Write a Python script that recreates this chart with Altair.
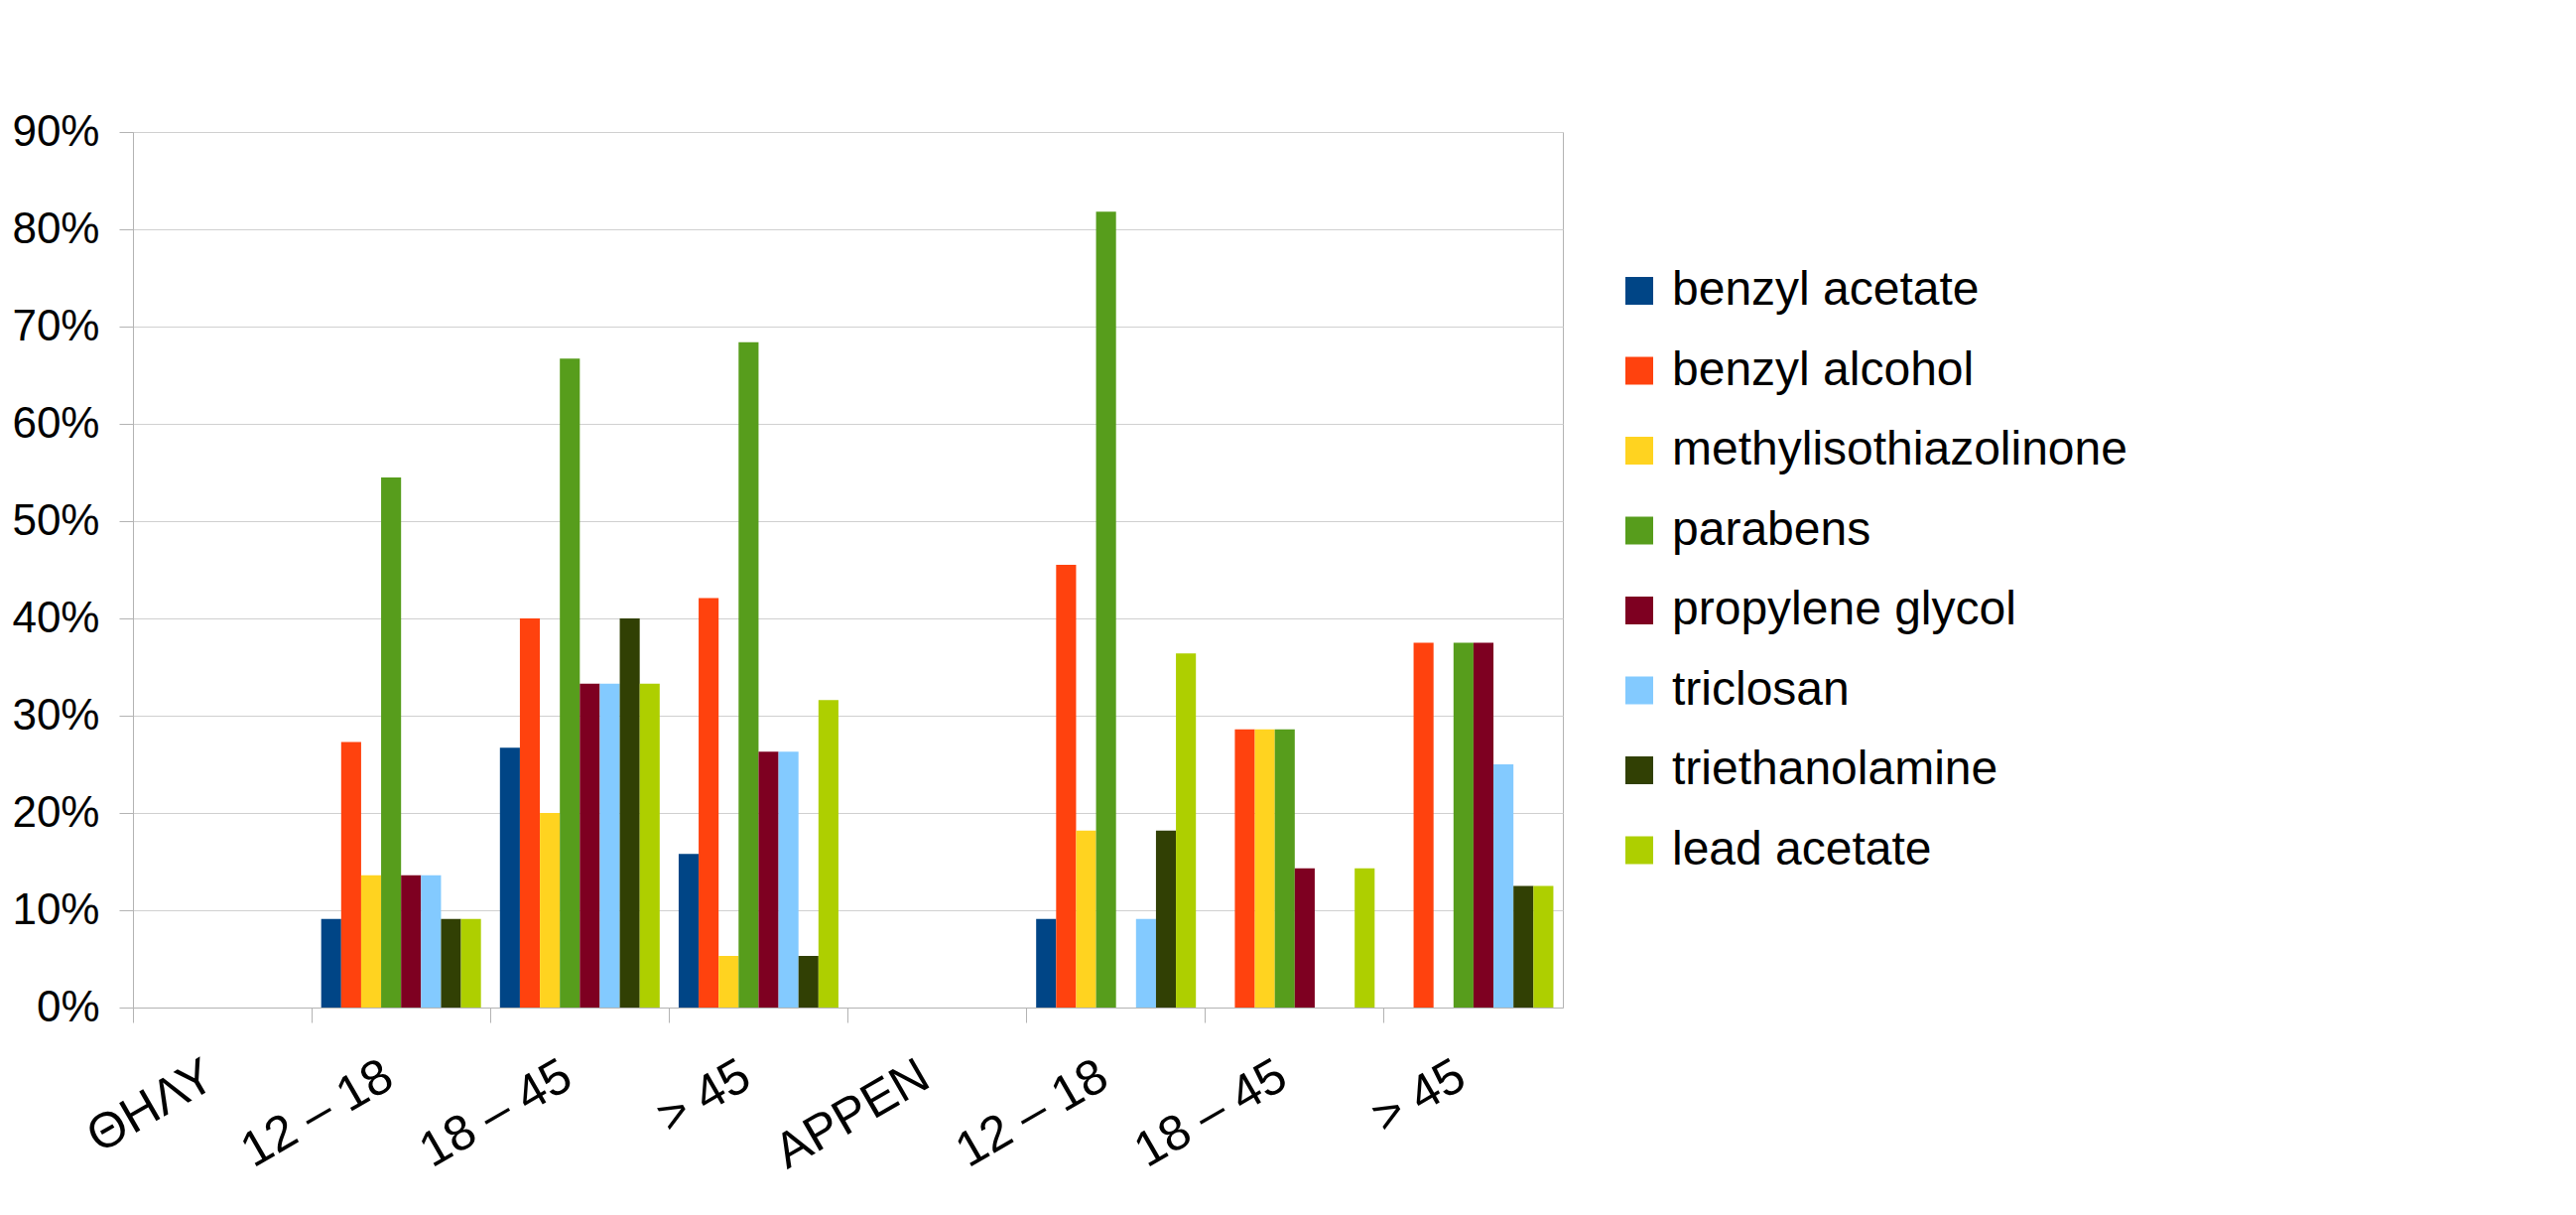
import json
import altair as alt
import pandas as pd

categories = ["ΘΗΛΥ", "12 – 18", "18 – 45", "> 45", "ΑΡΡΕΝ", "12 – 18", "18 – 45", "> 45"]
series_names = ["benzyl acetate", "benzyl alcohol", "methylisothiazolinone", "parabens",
                "propylene glycol", "triclosan", "triethanolamine", "lead acetate"]
colors = ["#004586", "#ff420e", "#ffd320", "#579d1c", "#7e0021", "#83caff", "#314004", "#aecf00"]

benzyl_acetate = [0, 9.1, 26.7, 15.8, 0, 9.1, 0, 0]
benzyl_alcohol = [0, 27.3, 40.0, 42.1, 0, 45.5, 28.6, 37.5]
methylisothiazolinone = [0, 13.6, 20.0, 5.3, 0, 18.2, 28.6, 0]
parabens = [0, 54.5, 66.7, 68.4, 0, 81.8, 28.6, 37.5]
propylene_glycol = [0, 13.6, 33.3, 26.3, 0, 0, 14.3, 37.5]
triclosan = [0, 13.6, 33.3, 26.3, 0, 9.1, 0, 25.0]
triethanolamine = [0, 9.1, 40.0, 5.3, 0, 18.2, 0, 12.5]
lead_acetate = [0, 9.1, 33.3, 31.6, 0, 36.4, 14.3, 12.5]

all_series = [benzyl_acetate, benzyl_alcohol, methylisothiazolinone, parabens,
              propylene_glycol, triclosan, triethanolamine, lead_acetate]

rows = []
for name, vals in zip(series_names, all_series):
    for i, v in enumerate(vals):
        rows.append({"idx": i, "series": name, "value": v / 100.0})
df = pd.DataFrame(rows)

label_expr = json.dumps(categories, ensure_ascii=False) + "[datum.value]"
FONT = "Liberation Sans"

chart = alt.Chart(df).mark_bar().encode(
    x=alt.X("idx:O",
            scale=alt.Scale(paddingInner=0, paddingOuter=0),
            axis=alt.Axis(title=None, labelExpr=label_expr, labelAngle=-30,
                          labelAlign="right", labelBaseline="middle",
                          labelFontSize=50, labelFont=FONT, labelColor="#000000",
                          labelPadding=50, labelOffset=-12,
                          bandPosition=0, tickSize=15, tickColor="#b3b3b3",
                          domainColor="#b3b3b3", grid=False)),
    xOffset=alt.XOffset("series:N", sort=series_names,
                        scale=alt.Scale(paddingInner=0, paddingOuter=0.475)),
    y=alt.Y("value:Q",
            scale=alt.Scale(domain=[0, 0.9], nice=False),
            axis=alt.Axis(title=None, format=".0%", values=[i / 10 for i in range(10)],
                          labelFontSize=44, labelFont=FONT, labelColor="#000000",
                          labelPadding=20, tickSize=14, tickColor="#b3b3b3",
                          domainColor="#b3b3b3", gridColor="#d0d0d0")),
    color=alt.Color("series:N", sort=series_names,
                    scale=alt.Scale(domain=series_names, range=colors),
                    legend=alt.Legend(title=None, orient="none", legendX=1494, legendY=136,
                                      symbolType="square", symbolSize=784,
                                      symbolStrokeWidth=0, labelFontSize=48,
                                      labelFont=FONT, labelColor="#000000",
                                      labelLimit=2000,
                                      labelOffset=9, rowPadding=32.5)),
).properties(
    width=1441, height=882,
    autosize=alt.AutoSizeParams(type="none"),
    padding={"left": 126, "top": 125, "right": 1000, "bottom": 190},
).configure_view(stroke="#b3b3b3")

chart.save("out.html", embed_options={"renderer": "svg", "actions": False})
